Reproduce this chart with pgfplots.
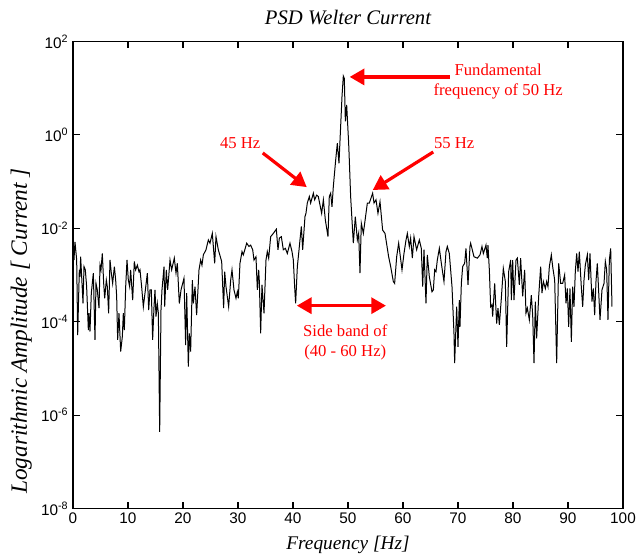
\documentclass[border=0pt]{standalone}
\usepackage{pgfplots}
\pgfplotsset{compat=1.18}
\usepackage{pgfplotstable}
\usepackage{fontspec}
\setmainfont{Liberation Serif}
\newfontfamily\hv{Liberation Sans}
\usetikzlibrary{arrows.meta}

% frequency [Hz] and log10 of the PSD value
\pgfplotstableread{
x l
0.18 -2.68
0.36 -2.29
0.67 -2.68
0.85 -4.29
1.15 -2.89
1.27 -3.04
1.39 -2.61
1.64 -3.18
1.82 -3.61
2.00 -2.82
2.24 -2.89
2.48 -3.25
2.79 -4.18
2.91 -3.82
3.09 -4.21
3.33 -3.39
3.70 -2.96
4.00 -4.39
4.18 -3.18
4.42 -3.32
4.73 -3.71
4.91 -2.79
5.09 -2.89
5.33 -2.54
5.58 -3.18
5.76 -3.50
6.06 -3.11
6.24 -3.25
6.48 -3.82
6.73 -2.68
6.97 -2.96
7.21 -3.18
7.52 -2.82
7.76 -3.11
7.94 -3.46
8.12 -4.39
8.36 -3.82
8.67 -4.64
8.97 -4.32
9.15 -3.82
9.33 -4.18
9.58 -3.25
9.82 -2.68
10.06 -3.11
10.30 -3.25
10.48 -2.89
10.85 -3.54
11.15 -2.71
11.39 -2.89
11.70 -2.79
12.00 -2.93
12.18 -2.89
12.48 -3.25
12.79 -3.68
13.09 -3.39
13.52 -2.96
13.76 -3.75
14.00 -3.32
14.24 -3.32
14.48 -4.39
14.73 -3.68
14.91 -3.32
15.09 -3.89
15.33 -3.61
15.52 -3.82
15.76 -6.36
16.00 -3.75
16.18 -3.32
16.55 -2.82
16.67 -3.68
16.97 -2.89
17.21 -3.32
17.64 -2.68
17.94 -2.89
18.42 -2.64
18.73 -2.96
18.97 -2.75
19.33 -3.61
19.64 -3.32
20.18 -3.07
20.48 -4.50
20.67 -3.39
20.97 -4.96
21.15 -4.25
21.39 -4.64
21.70 -3.11
21.88 -3.61
22.18 -3.25
22.48 -3.86
22.91 -2.89
23.21 -2.68
23.45 -2.79
23.70 -2.57
24.18 -2.46
24.61 -2.25
24.91 -2.32
25.33 -2.11
25.76 -2.75
26.00 -2.18
26.42 -2.46
27.03 -2.71
27.39 -3.71
27.58 -2.93
27.82 -3.25
28.30 -3.68
28.67 -3.11
28.91 -2.89
29.27 -3.32
29.64 -3.50
29.88 -3.36
30.06 -3.50
30.36 -2.75
30.73 -2.50
30.97 -2.57
31.58 -2.32
32.00 -2.39
32.30 -2.36
32.67 -2.46
32.91 -2.68
33.27 -2.61
33.52 -3.32
33.76 -2.89
33.88 -3.14
34.12 -4.25
34.36 -3.21
34.73 -3.82
35.09 -2.68
35.33 -2.50
35.58 -2.64
35.94 -2.18
36.42 -2.11
36.97 -2.02
37.27 -2.46
37.52 -2.21
37.88 -2.18
38.24 -2.46
38.61 -2.43
38.97 -2.54
39.45 -2.32
39.82 -2.50
40.06 -2.68
40.30 -3.25
40.48 -3.61
40.79 -2.82
41.03 -2.54
41.27 -2.25
41.52 -1.96
41.76 -2.46
42.18 -1.75
42.36 -1.68
42.60 -1.46
42.97 -1.32
43.21 -1.46
43.70 -1.25
43.94 -1.39
44.30 -1.29
44.60 -1.32
45.21 -1.68
45.52 -1.39
45.88 -1.82
46.36 -2.18
46.60 -1.32
46.85 -1.25
47.09 -1.54
47.33 -1.11
47.76 -0.54
48.06 -0.18
48.36 -0.61
48.55 -0.11
48.91 0.82
49.15 1.26
49.33 1.21
49.52 0.29
49.76 0.64
50.12 -0.18
50.24 -0.54
50.48 -1.32
50.97 -2.32
51.33 -1.75
51.70 -2.25
51.94 -2.11
52.18 -2.96
52.42 -1.89
52.79 -2.11
53.52 -1.46
53.88 -1.46
54.48 -1.25
54.73 -1.46
55.09 -1.39
55.45 -1.68
55.82 -1.43
56.30 -2.04
56.73 -2.11
57.39 -2.61
57.76 -2.82
58.24 -3.14
58.48 -3.18
58.85 -2.61
59.21 -2.32
59.82 -2.89
60.18 -2.54
60.55 -2.25
60.79 -2.11
61.15 -2.39
61.39 -2.21
61.70 -2.64
62.00 -2.18
62.48 -2.46
62.97 -2.25
63.33 -2.43
63.58 -3.25
63.82 -2.46
64.18 -3.61
64.42 -2.57
64.79 -3.04
65.27 -3.36
65.52 -3.32
65.76 -2.89
66.00 -2.93
66.24 -2.68
66.61 -2.43
66.97 -2.75
67.45 -3.14
67.82 -2.50
68.06 -2.39
68.42 -2.54
68.91 -3.25
69.27 -4.25
69.39 -4.89
69.76 -3.68
70.00 -4.54
70.24 -3.54
70.36 -4.11
70.61 -3.18
70.85 -2.82
71.21 -2.75
71.45 -2.43
71.82 -3.21
72.18 -2.39
72.30 -2.32
72.91 -2.61
73.52 -2.64
74.00 -2.57
74.36 -2.39
74.61 -2.54
75.09 -2.36
75.33 -2.64
75.45 -2.36
75.70 -2.89
75.94 -3.68
76.18 -3.64
76.30 -3.89
76.67 -3.18
77.03 -4.04
77.27 -3.71
77.52 -4.07
77.88 -3.50
78.24 -2.86
78.61 -3.14
78.85 -4.54
79.21 -2.93
79.58 -2.68
79.70 -3.54
79.94 -2.68
80.18 -3.54
80.55 -2.68
80.79 -2.64
81.15 -3.21
81.39 -2.64
81.76 -3.46
82.12 -2.89
82.36 -3.82
82.61 -3.71
82.97 -3.96
83.33 -3.43
83.58 -3.86
83.82 -4.89
84.06 -3.57
84.30 -4.36
84.67 -3.46
85.03 -2.82
85.27 -3.39
85.52 -3.14
85.88 -3.29
86.12 -3.14
86.36 -3.25
86.61 -2.82
86.97 -2.57
87.21 -2.82
87.58 -3.11
87.94 -4.89
88.30 -2.75
88.67 -3.18
89.03 -3.18
89.39 -3.00
89.64 -3.61
89.88 -3.29
90.12 -4.11
90.36 -3.29
90.61 -4.43
90.85 -3.25
91.09 -3.68
91.33 -2.93
91.58 -2.54
91.82 -2.93
92.06 -2.50
92.42 -3.25
92.67 -3.68
92.91 -3.11
93.15 -2.79
93.52 -2.57
93.76 -3.11
94.00 -2.54
94.36 -3.57
94.61 -3.29
94.85 -3.86
95.09 -3.14
95.33 -2.75
95.58 -3.36
95.82 -3.96
96.18 -3.32
96.55 -3.18
96.79 -2.71
97.03 -2.89
97.27 -3.96
97.52 -2.68
97.76 -2.43
98.00 -3.68
}\psd

\begin{document}
\begin{tikzpicture}
\begin{axis}[
  name=ax,
  scale only axis,
  width=412.5pt, height=350.25pt,
  xmin=0, xmax=100,
  ymode=log, ymin=1e-8, ymax=1e2,
  xtick={0,10,...,100},
  ytick={1e-8,1e-6,1e-4,1e-2,1,1e2},
  yticklabels={10\textsuperscript{-8},10\textsuperscript{-6},10\textsuperscript{-4},10\textsuperscript{-2},10\textsuperscript{0},10\textsuperscript{2}},
  yminorticks=false,
  tick align=inside,
  major tick length=5pt,
  axis line style={line width=0.8pt},
  every tick/.style={black, line width=0.8pt},
  tick label style={font=\hv\fontsize{11.5}{13}\selectfont},
  /pgf/number format/assume math mode=true,
  title={\itshape PSD Welter Current},
  title style={font=\fontsize{15.5}{17}\selectfont, yshift=3pt},
  xlabel={\itshape Frequency [Hz]},
  ylabel={\itshape Logarithmic Amplitude [ Current ]},
  xlabel style={font=\fontsize{14.5}{16}\selectfont, yshift=-2.5pt},
  ylabel style={font=\fontsize{17.5}{19}\selectfont, at={(ticklabel cs:0.38)}},
  clip=true,
]
\addplot[black, line width=0.75pt] table[x=x, y expr=10^(\thisrow{l})] {\psd};

\draw[red, line width=2.4pt, -{Triangle[length=11pt,width=12pt]}]
  (axis cs:68.5,17.4) -- (axis cs:50.3,17.4);
\node[red, align=center, font=\fontsize{12.5}{15}\selectfont]
  at (axis cs:77.3,14) {Fundamental\\frequency of 50 Hz};

\node[red, font=\fontsize{12.5}{15}\selectfont] at (axis cs:30.4,0.67) {45 Hz};
\draw[red, line width=2.4pt, -{Triangle[length=11pt,width=12pt]}]
  (axis cs:34.5,0.41) -- (axis cs:42.5,0.076);

\node[red, font=\fontsize{12.5}{15}\selectfont] at (axis cs:69.3,0.67) {55 Hz};
\draw[red, line width=2.4pt, -{Triangle[length=11pt,width=12pt]}]
  (axis cs:65.5,0.43) -- (axis cs:54.5,0.066);

\draw[red, line width=2.4pt, {Triangle[length=11pt,width=12pt]}-{Triangle[length=11pt,width=12pt]}]
  (axis cs:40.7,2.2e-4) -- (axis cs:56.9,2.2e-4);
\node[red, align=center, font=\fontsize{12.5}{15}\selectfont]
  at (axis cs:49.5,3.6e-5) {Side band of\\(40 - 60 Hz)};
\end{axis}
\pgfresetboundingbox
\path[use as bounding box] ([shift={(-54.75pt,-36pt)}]ax.south west)
  rectangle ([shift={(10.5pt,31.1pt)}]ax.north east);
\end{tikzpicture}
\end{document}
